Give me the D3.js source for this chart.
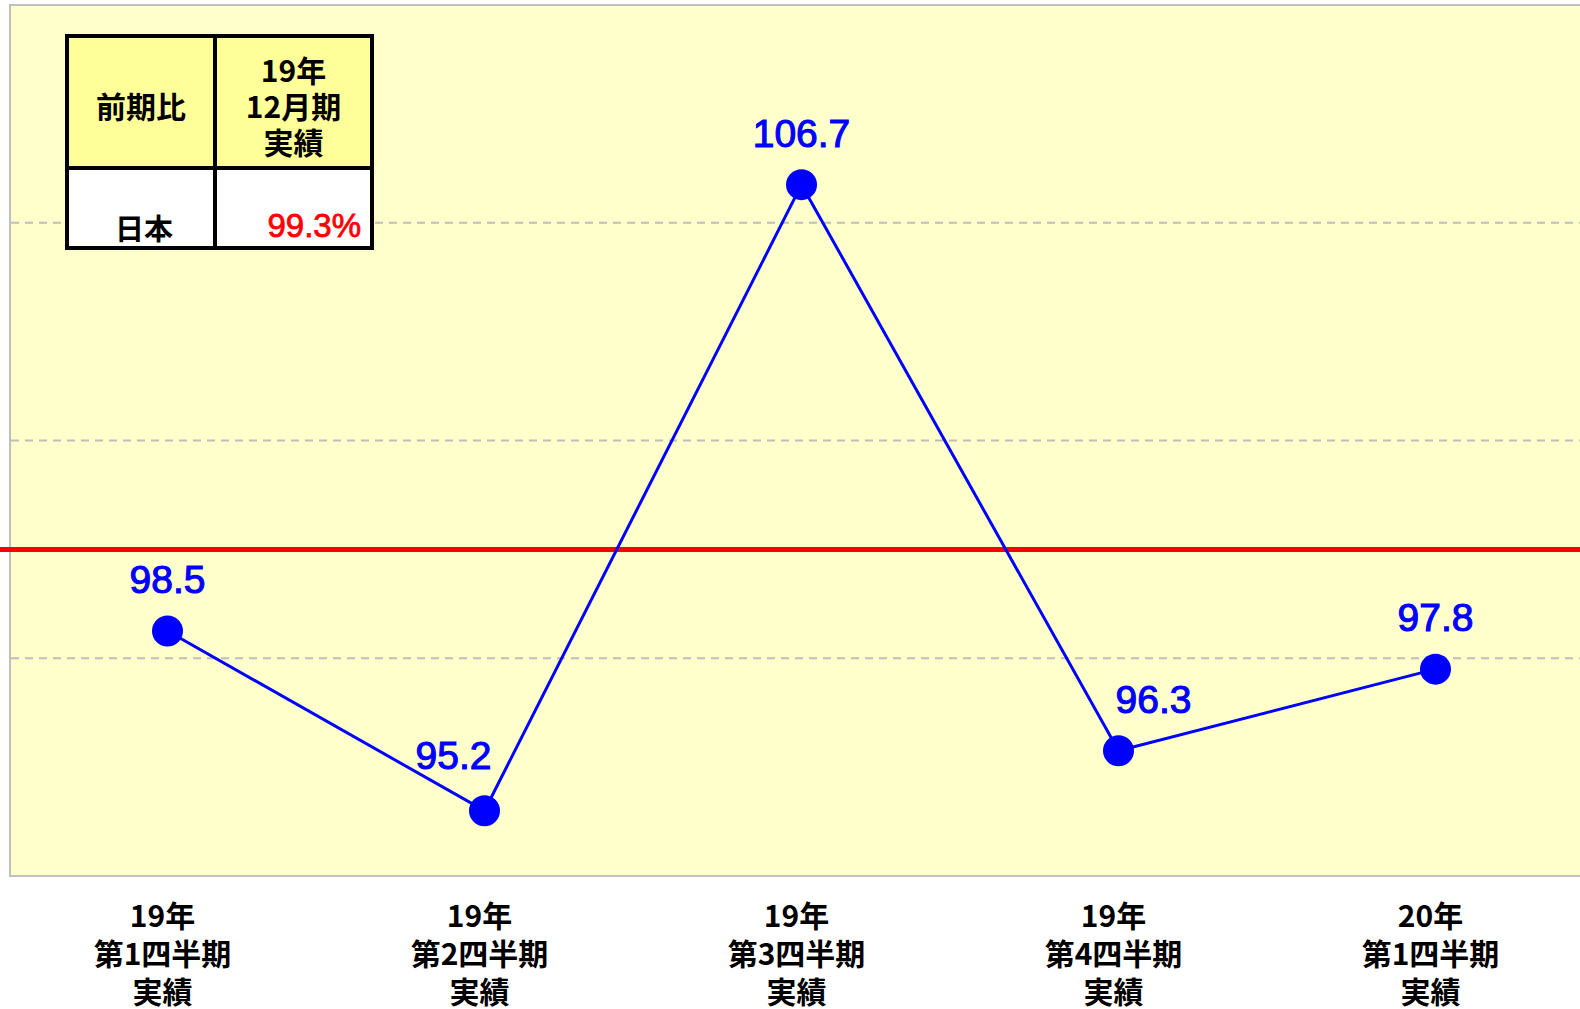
<!DOCTYPE html>
<html>
<head>
<meta charset="utf-8">
<script src="https://cdn.jsdelivr.net/npm/d3@7"></script>
<style>
  html, body { margin: 0; padding: 0; background: #ffffff; }
  svg { display: block; }
</style>
</head>
<body>
<svg id="chart" width="1580" height="1009"></svg>
<script>
// Quarterly results vs previous period (%)
const categories = [
  "19年\n第1四半期\n実績",
  "19年\n第2四半期\n実績",
  "19年\n第3四半期\n実績",
  "19年\n第4四半期\n実績",
  "20年\n第1四半期\n実績"
];
const values = [98.5, 95.2, 106.7, 96.3, 97.8];
const yTicks = [94, 98, 102, 106, 110];
const referenceLevel = 100;

// Summary table in the corner
const tableHeader = ["前期比", "19年\n12月期\n実績"];
const tableRow = ["日本", "99.3%"];

// Hand-placed offsets for value labels (dx, dy from the marker)
const labelNudge = [[0, -38], [-31, -42], [0, -38], [35, -38], [0, -38]];

const svg = d3.select("#chart");
const W = 1580, H = 1009;
const plot = { left: 10, right: 1595, top: 5, bottom: 876 };

const x = d3.scaleBand()
  .domain(categories)
  .range([plot.left - 1, plot.right - 1])
  .paddingInner(0).paddingOuter(0);
const cx = d => x(d) + x.bandwidth() / 2;

const y = d3.scaleLinear()
  .domain([yTicks[0], yTicks[yTicks.length - 1]])
  .range([plot.bottom, plot.top]);

const numFont = "'Liberation Sans', Arial, sans-serif";
const jpFont = "'Noto Sans CJK JP', 'Noto Sans', sans-serif";

// Plot background and frame
svg.append("rect")
  .attr("x", plot.left).attr("y", plot.top)
  .attr("width", plot.right - plot.left).attr("height", plot.bottom - plot.top)
  .attr("fill", "#ffffcc")
  .attr("stroke", "#c0c0c0").attr("stroke-width", 2);

// Dashed gridlines
svg.append("g")
  .selectAll("line")
  .data(yTicks.slice(1, -1))
  .join("line")
  .attr("x1", plot.left + 1).attr("x2", plot.right)
  .attr("y1", d => y(d)).attr("y2", d => y(d))
  .attr("stroke", "#bdbdbd").attr("stroke-width", 2)
  .attr("stroke-dasharray", "8,6");

// X axis (category labels, no ticks)
const xAxis = svg.append("g")
  .attr("transform", `translate(0,${plot.bottom})`)
  .call(d3.axisBottom(x).tickSize(0).tickFormat(""));
xAxis.select(".domain").remove();
xAxis.selectAll(".tick").each(function(d) {
  const t = d3.select(this).append("text")
    .attr("text-anchor", "middle")
    .attr("fill", "#000")
    .attr("font-family", jpFont)
    .attr("font-weight", "bold")
    .attr("font-size", 30)
    .attr("x", -5);
  d.split("\n").forEach((line, i) => {
    t.append("tspan").attr("x", -5).attr("y", 51 + i * 38).text(line);
  });
});

// Reference line at 100
svg.append("line")
  .attr("x1", 0).attr("x2", W)
  .attr("y1", y(referenceLevel)).attr("y2", y(referenceLevel))
  .attr("stroke", "#ff0000").attr("stroke-width", 5);

// Series line
const line = d3.line()
  .x((d, i) => cx(categories[i]))
  .y(d => y(d));
svg.append("path")
  .datum(values)
  .attr("d", line)
  .attr("fill", "none")
  .attr("stroke", "#0000ff")
  .attr("stroke-width", 3);

// Markers
svg.append("g")
  .selectAll("circle")
  .data(values)
  .join("circle")
  .attr("cx", (d, i) => cx(categories[i]))
  .attr("cy", d => y(d))
  .attr("r", 15.5)
  .attr("fill", "#0000ff");

// Value labels
svg.append("g")
  .selectAll("text")
  .data(values)
  .join("text")
  .attr("x", (d, i) => cx(categories[i]) + labelNudge[i][0])
  .attr("y", (d, i) => y(d) + labelNudge[i][1])
  .attr("text-anchor", "middle")
  .attr("fill", "#0000ff")
  .attr("stroke", "#0000ff").attr("stroke-width", 1.1)
  .attr("font-family", numFont)
  .attr("font-size", 39)
  .text(d => d3.format(".1f")(d));

// Summary table
const tb = { left: 67, top: 36, right: 372, bottom: 248, midX: 215, midY: 168 };
const tg = svg.append("g");
tg.append("rect").attr("x", tb.left).attr("y", tb.top)
  .attr("width", tb.right - tb.left).attr("height", tb.midY - tb.top)
  .attr("fill", "#ffff99");
tg.append("rect").attr("x", tb.left).attr("y", tb.midY)
  .attr("width", tb.right - tb.left).attr("height", tb.bottom - tb.midY)
  .attr("fill", "#ffffff");
tg.append("rect").attr("x", tb.left).attr("y", tb.top)
  .attr("width", tb.right - tb.left).attr("height", tb.bottom - tb.top)
  .attr("fill", "none").attr("stroke", "#000").attr("stroke-width", 4);
tg.append("line").attr("x1", tb.midX).attr("x2", tb.midX)
  .attr("y1", tb.top).attr("y2", tb.bottom)
  .attr("stroke", "#000").attr("stroke-width", 4);
tg.append("line").attr("x1", tb.left).attr("x2", tb.right)
  .attr("y1", tb.midY).attr("y2", tb.midY)
  .attr("stroke", "#000").attr("stroke-width", 4);

tg.append("text")
  .attr("x", (tb.left + tb.midX) / 2).attr("y", 118)
  .attr("text-anchor", "middle")
  .attr("font-family", jpFont).attr("font-weight", "bold").attr("font-size", 30)
  .text(tableHeader[0]);
const hdr = tg.append("text")
  .attr("text-anchor", "middle")
  .attr("font-family", jpFont).attr("font-weight", "bold").attr("font-size", 30);
tableHeader[1].split("\n").forEach((line, i) => {
  hdr.append("tspan").attr("x", (tb.midX + tb.right) / 2).attr("y", 82 + i * 36).text(line);
});
tg.append("text")
  .attr("x", (tb.left + tb.midX) / 2 + 3).attr("y", 240)
  .attr("text-anchor", "middle")
  .attr("font-family", jpFont).attr("font-weight", "bold").attr("font-size", 29)
  .text(tableRow[0]);
tg.append("text")
  .attr("x", 361).attr("y", 237)
  .attr("text-anchor", "end")
  .attr("fill", "#ff0000")
  .attr("stroke", "#ff0000").attr("stroke-width", 0.8)
  .attr("font-family", numFont).attr("font-size", 33)
  .text(tableRow[1]);
</script>
</body>
</html>
